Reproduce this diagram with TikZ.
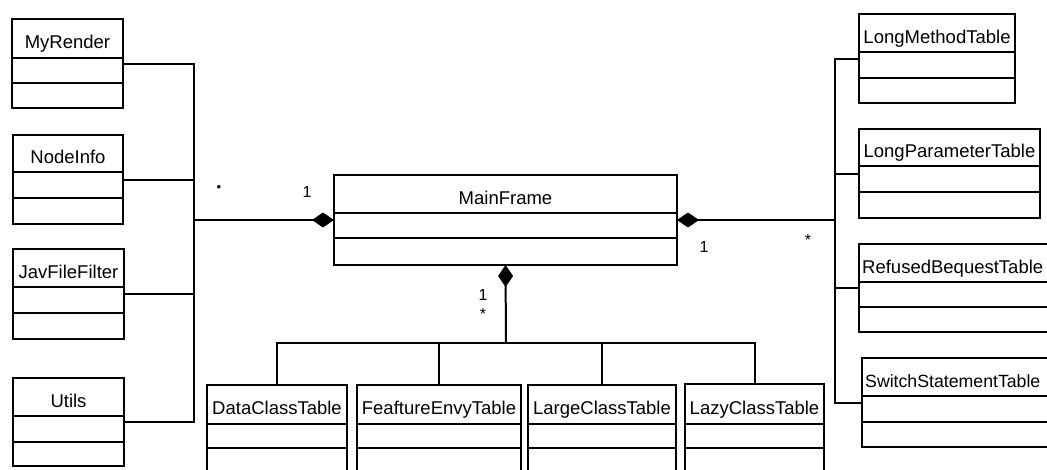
\documentclass[tikz,border=0pt]{standalone}
\usepackage{fontspec}
\setmainfont{Liberation Sans}
\usetikzlibrary{arrows.meta,calc}

\tikzset{
  classbox/.style={draw, line width=2pt, inner sep=0pt, outer sep=0pt, fill=none},
  classline/.style={line width=2pt},
  classname/.style={anchor=base, inner sep=0pt, font=\fontsize{18.5}{20}\selectfont},
  link/.style={line width=2pt},
  compose/.style={line width=2pt, -{Diamond[length=22pt,width=15pt]}},
  mult/.style={inner sep=0pt, font=\fontsize{16}{17}\selectfont},
}

% box with two divider lines: name, left, top, right, bottom, divider 1, divider 2
\newcommand\umlbox[7]{%
  \pgfmathsetmacro\umlW{#4-#2}\pgfmathsetmacro\umlH{#5-#3}%
  \node[classbox, minimum width=\umlW pt, minimum height=\umlH pt, anchor=north west] (#1) at (#2,#3) {};
  \draw[classline] (#2,#6) -- (#4,#6);
  \draw[classline] (#2,#7) -- (#4,#7);
}
\newcommand\umlclass[8]{%
  \umlbox{#1}{#2}{#3}{#4}{#5}{#6}{#7}%
  \node[classname] (#1-name) at ({(#2+#4)/2},{(#3+#6)/2+10}) {#8};
}
\newcommand\umlclassleft[8]{%
  \umlbox{#1}{#2}{#3}{#4}{#5}{#6}{#7}%
  \node[classname, anchor=base west] (#1-name) at ({#2+3},{(#3+#6)/2+10}) {#8};
}

\begin{document}
\begin{tikzpicture}[x=1pt, y=-1pt]
  \useasboundingbox (0,0) rectangle (1047,469);
  \fill[white] (0,0) rectangle (1047,469);
  \clip (0,0) rectangle (1047,469);

  % central class
  \umlclass{mainframe}{334}{175}{677}{265}{213}{238}{MainFrame}

  % left column
  \umlclass{myrender}{12}{19}{123}{108}{58}{83}{MyRender}
  \umlclass{nodeinfo}{13}{135}{123}{224}{172}{198}{NodeInfo}
  \umlclass{javfilter}{13}{249}{124}{339}{287}{313}{JavFileFilter}
  \umlclass{utils}{13}{378}{124}{466}{416}{442}{Utils}

  % bottom row
  \umlclass{dataclass}{207}{385}{347}{500}{424}{448}{DataClassTable}
  \umlclass{featenvy}{357}{385}{521}{500}{424}{448}{FeaftureEnvyTable}
  \umlclass{largeclass}{528}{385}{676}{500}{424}{448}{LargeClassTable}
  \umlclass{lazyclass}{685}{384}{824}{500}{424}{448}{LazyClassTable}

  % right column
  \umlclass{longmethod}{859}{14}{1015}{103}{52}{78}{LongMethodTable}
  \umlclass{longparam}{859}{129}{1040}{218}{166}{192}{LongParameterTable}
  \umlclassleft{refused}{859}{244}{1070}{332}{282}{307}{RefusedBequestTable}
  \umlclassleft{switchst}{862}{358}{1070}{447}{396}{422}{\fontsize{17.7}{19}\selectfont SwitchStatementTable}

  % junction points of the connector trees
  \coordinate (lbus) at (194,220);
  \coordinate (rbus) at (835,220);
  \coordinate (bbus) at (506,343);

  % left composition
  \draw[link] (myrender.east) -| (lbus);
  \draw[link] (nodeinfo.east) -| (lbus);
  \draw[link] (javfilter.east) -| (lbus);
  \draw[link] (utils.east) -| (lbus);
  \draw[compose] (lbus) -- (mainframe.west);

  % right composition
  \draw[link] (longmethod.west) -| (rbus);
  \draw[link] (longparam.west) -| (rbus);
  \draw[link] (refused.west) -| (rbus);
  \draw[link] (switchst.west) -| (rbus);
  \draw[compose] (rbus) -- (mainframe.east);

  % bottom composition
  \draw[link] (dataclass.north) |- (bbus);
  \draw[link] (featenvy.north) |- (bbus);
  \draw[link] (largeclass.north) |- (bbus);
  \draw[link] (lazyclass.north) |- (bbus);
  \draw[compose] (bbus) -- (mainframe.south);

  % multiplicities
  \node[mult, font=\fontsize{13}{13}\selectfont] (mleftmany) at (219,188) {•};
  \node[mult] (mleftone) at (307,192) {1};
  \node[mult] (mbotone) at (483,295) {1};
  \node[mult] (mbotmany) at (483,314) {*};
  \node[mult] (mrightone) at (704,247) {1};
  \node[mult] (mrightmany) at (808,240) {*};
\end{tikzpicture}
\end{document}
